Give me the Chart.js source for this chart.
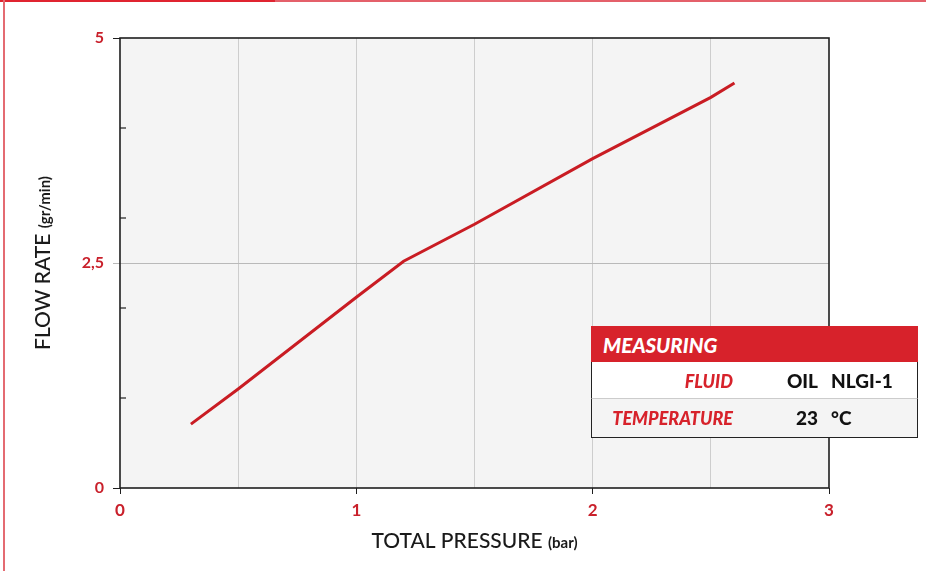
<!DOCTYPE html>
<html>
<head>
<meta charset="utf-8">
<script src="https://cdn.jsdelivr.net/npm/chart.js@4"></script>
<style>
  html, body { margin: 0; padding: 0; background: #fff; }
  body { width: 926px; height: 571px; position: relative; overflow: hidden; font-family: Lato, "Noto Sans", sans-serif; }
  #wrap { position: absolute; left: 0; top: 0; width: 926px; height: 571px; }
  .topline1 { position: absolute; left: 0; top: 0; width: 275px; height: 2px; background: #e02430; }
  .topline2 { position: absolute; left: 275px; top: 0; width: 651px; height: 2px; background: #e4606a; }
  .leftline { position: absolute; left: 3px; top: 0; width: 2px; height: 571px; background: #e46b72; }
  #tbl { position: absolute; left: 591px; top: 326px; width: 327px; }
  #tbl .hd { height: 36px; background: #d7222b; color: #fff; font-weight: 900; font-style: italic; font-size: 20.5px; line-height: 38px; padding-left: 12px; }
  #tbl .row { position: relative; height: 37px; border-left: 1.5px solid #222; border-right: 1.5px solid #222; box-sizing: border-box; }
  #tbl .r1 { background: #fff; border-bottom: 1px solid #ccc; }
  #tbl .r2 { background: #f4f4f4; border-bottom: 1.5px solid #222; height: 39px; }
  #tbl .lab { position: absolute; right: 184px; top: 0; line-height: 38px; color: #d7222b; font-weight: 900; font-style: italic; font-size: 18px; }
  #tbl .v1 { position: absolute; right: 99px; top: 0; line-height: 38px; color: #111; font-weight: 900; font-size: 19px; }
  #tbl .v2 { position: absolute; left: 239px; top: 0; line-height: 38px; color: #111; font-weight: 900; font-size: 19px; }
</style>
</head>
<body>
<div id="wrap"><canvas id="c" width="926" height="571"></canvas></div>
<div class="topline1"></div><div class="topline2"></div><div class="leftline"></div>
<div id="tbl">
  <div class="hd">MEASURING</div>
  <div class="row r1"><span class="lab">FLUID</span><span class="v1">OIL</span><span class="v2">NLGI-1</span></div>
  <div class="row r2"><span class="lab">TEMPERATURE</span><span class="v1">23</span><span class="v2">°C</span></div>
</div>
<script>
// ---- data ----
const pressure = [0.3, 0.5, 1.0, 1.2, 1.5, 2.0, 2.5, 2.6];      // TOTAL PRESSURE (bar)
const flowRate = [0.71, 1.10, 2.12, 2.52, 2.93, 3.66, 4.34, 4.50]; // FLOW RATE (gr/min)
const xTickLabels = ['0', '1', '2', '3'];
const yTickLabels = ['0', '2,5', '5'];
const yMinorTicks = [1, 2, 3, 4];

const RED = '#c9202b';
const points = pressure.map((p, i) => ({ x: p, y: flowRate[i] }));

const framePlugin = {
  id: 'frame',
  beforeDraw(chart) {
    const { ctx, chartArea: a } = chart;
    ctx.save();
    ctx.fillStyle = '#f4f4f4';
    ctx.fillRect(a.left, a.top, a.right - a.left, a.bottom - a.top);
    ctx.restore();
  },
  afterDatasetsDraw(chart) {
    const { ctx, chartArea: a, scales } = chart;
    ctx.save();
    ctx.strokeStyle = '#1e1e1e';
    ctx.lineWidth = 1.6;
    ctx.strokeRect(a.left, a.top, a.right - a.left, a.bottom - a.top);
    ctx.lineWidth = 1.2;
    yMinorTicks.forEach(v => {
      const y = scales.y.getPixelForValue(v);
      ctx.beginPath(); ctx.moveTo(a.left, y); ctx.lineTo(a.left + 6, y); ctx.stroke();
    });
    ctx.restore();
  },
  afterDraw(chart) {
    const { ctx, chartArea: a } = chart;
    ctx.save();
    ctx.fillStyle = '#1a1a1a';
    ctx.textBaseline = 'alphabetic';
    const big = '500 21px Lato, "Noto Sans", sans-serif';
    const small = '700 15px Lato, "Noto Sans", sans-serif';
    let t1 = 'TOTAL PRESSURE ', t2 = '(bar)';
    ctx.font = big; const w1 = ctx.measureText(t1).width;
    ctx.font = small; const w2 = ctx.measureText(t2).width;
    let cx = (a.left + a.right) / 2, x0 = cx - (w1 + w2) / 2;
    ctx.font = big; ctx.fillText(t1, x0, 548);
    ctx.font = small; ctx.fillText(t2, x0 + w1, 548);
    t1 = 'FLOW RATE '; t2 = '(gr/min)';
    ctx.font = big; const v1 = ctx.measureText(t1).width;
    ctx.font = small; const v2 = ctx.measureText(t2).width;
    ctx.translate(50, (a.top + a.bottom) / 2);
    ctx.rotate(-Math.PI / 2);
    x0 = -(v1 + v2) / 2;
    ctx.font = big; ctx.fillText(t1, x0, 0);
    ctx.font = small; ctx.fillText(t2, x0 + v1, 0);
    ctx.restore();
  }
};

new Chart(document.getElementById('c'), {
  type: 'line',
  data: {
    datasets: [{
      data: points,
      borderColor: '#c91c23',
      borderWidth: 3,
      pointRadius: 0,
      tension: 0,
      fill: false
    }]
  },
  options: {
    responsive: false,
    animation: false,
    events: [],
    layout: { padding: { left: 0, top: 38, right: 97, bottom: 0 } },
    plugins: { legend: { display: false }, tooltip: { enabled: false } },
    scales: {
      x: {
        type: 'linear', min: 0, max: 3,
        afterFit(s) { s.height = 83; },
        ticks: {
          stepSize: 0.5,
          autoSkip: false,
          maxRotation: 0,
          color: RED,
          font: { family: 'Lato, "Noto Sans", sans-serif', size: 17, weight: '700' },
          padding: 6,
          callback: v => Number.isInteger(v) ? xTickLabels[v] : ''
        },
        grid: {
          color: c => (c.tick && (c.tick.value === 0 || c.tick.value === 3)) ? 'transparent' : '#cdcdcd',
          tickColor: c => (c.tick && Number.isInteger(c.tick.value)) ? '#1e1e1e' : 'transparent',
          tickLength: 6,
          lineWidth: 1
        },
        border: { display: false }
      },
      y: {
        type: 'linear', min: 0, max: 5,
        afterFit(s) { s.width = 120; },
        ticks: {
          stepSize: 1.25,
          autoSkip: false,
          color: RED,
          font: { family: 'Lato, "Noto Sans", sans-serif', size: 16, weight: '700' },
          padding: 9,
          callback: v => v === 0 ? yTickLabels[0] : v === 2.5 ? yTickLabels[1] : v === 5 ? yTickLabels[2] : ''
        },
        grid: {
          color: c => (c.tick && c.tick.value === 2.5) ? '#b9b9b9' : 'transparent',
          tickColor: c => {
            const v = c.tick && c.tick.value;
            return v === 2.5 ? '#b9b9b9' : (v === 0 || v === 5) ? '#1e1e1e' : 'transparent';
          },
          tickLength: 7,
          lineWidth: 1
        },
        border: { display: false }
      }
    }
  },
  plugins: [framePlugin]
});
</script>
</body>
</html>
